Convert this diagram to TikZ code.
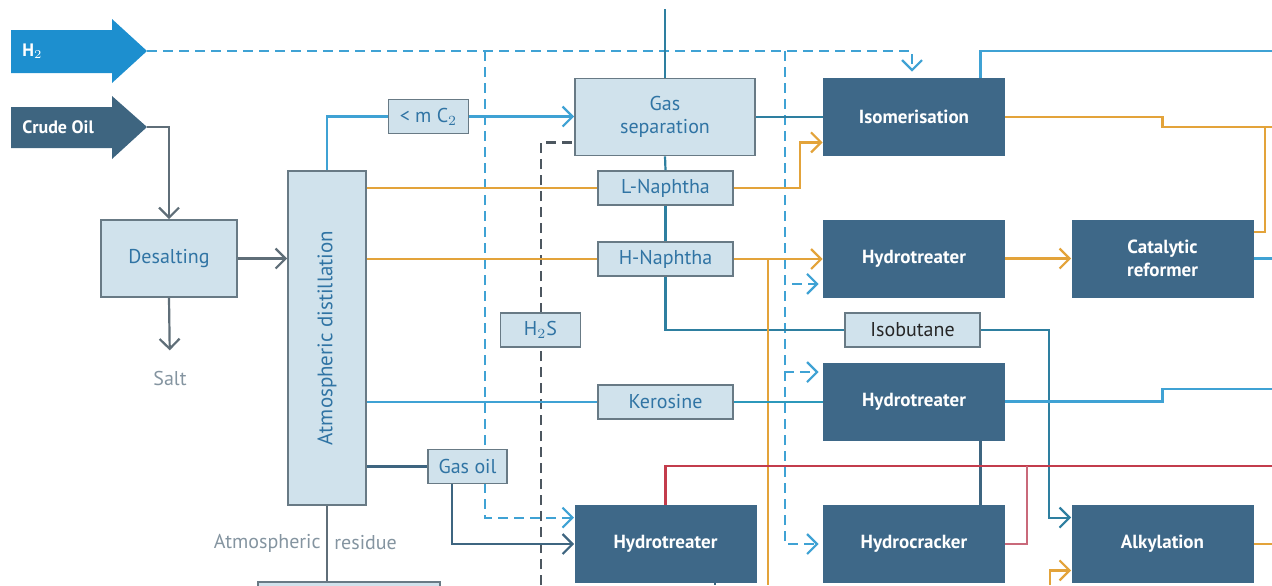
\documentclass[tikz,border=0pt]{standalone}
\usepackage{fontspec}
\setmainfont{PT Sans}
\usetikzlibrary{arrows.meta}

\definecolor{hblue}{HTML}{1D8FCF}
\definecolor{crudeblue}{HTML}{3E6580}
\definecolor{darkfill}{HTML}{3E6888}
\definecolor{boxfill}{HTML}{D0E2EC}
\definecolor{boxline}{HTML}{687A85}
\definecolor{boxtext}{HTML}{3074A4}
\definecolor{greyline}{HTML}{5F6E78}
\definecolor{greytext}{HTML}{8494A0}
\definecolor{lightblue}{HTML}{3FA2D4}
\definecolor{tealline}{HTML}{2E7FA0}
\definecolor{oilorange}{HTML}{E3A33A}
\definecolor{gasred}{HTML}{C33C4C}
\definecolor{pinkred}{HTML}{C9697A}
\definecolor{dashgrey}{HTML}{4D5760}

\tikzset{
  lightbox/.style={draw=boxline,fill=boxfill,line width=0.9pt,text=boxtext,
    align=center,inner sep=0pt,font=\fontsize{10}{11.5}\selectfont},
  darkbox/.style={fill=darkfill,text=white,align=center,inner sep=0pt,
    minimum width=91pt,minimum height=39pt,font=\fontsize{9.5}{11.5}\selectfont\bfseries},
  feedtext/.style={text=white,anchor=west,inner sep=0pt,font=\fontsize{9}{11}\selectfont\bfseries},
  greytxt/.style={text=greytext,inner sep=0pt,font=\fontsize{10}{11.5}\selectfont},
  flow/.style={line width=1.1pt},
  tip/.style={-{Straight Barb[length=5pt,width=10pt]}},
  h2line/.style={flow,draw=lightblue,dash pattern=on 5pt off 3pt},
}

\begin{document}
\begin{tikzpicture}[x=0.5pt,y=-0.5pt]
\useasboundingbox (0,0) rectangle (1272,585);

% feed arrows
\fill[hblue] (11,30) -- (112,30) -- (112,19) -- (147,51) -- (112,83) -- (112,73) -- (11,73) -- cycle;
\fill[crudeblue] (11,107) -- (112,107) -- (112,96) -- (147,127) -- (112,159) -- (112,148) -- (11,148) -- cycle;
\node[feedtext] (h2) at (22,51) {H$_2$};
\node[feedtext] (crude) at (22,127) {Crude Oil};
\coordinate (h2tip) at (147,51);
\coordinate (crudetip) at (147,127);

% units
\node[lightbox,minimum width=68pt,minimum height=38.5pt] (desalt) at (169,258.5) {Desalting};
\node[greytxt] (salt) at (170,378) {Salt};
\node[lightbox,minimum width=39pt,minimum height=167pt] (atm) at (327,338) {};
\node[rotate=90,text=boxtext,inner sep=0pt,font=\fontsize{10.5}{12}\selectfont] (atmlabel) at (327,338) {Atmospheric distillation};
\node[lightbox,minimum width=40pt,minimum height=17pt] (mc2) at (428.5,116.5) {< m C$_2$};
\node[lightbox,minimum width=90pt,minimum height=38.5pt] (gassep) at (665,117) {Gas\\separation};
\node[lightbox,minimum width=67.5pt,minimum height=17pt] (lnaph) at (665.5,188) {L-Naphtha};
\node[lightbox,minimum width=67.5pt,minimum height=17pt] (hnaph) at (665.5,259) {H-Naphtha};
\node[lightbox,minimum width=67.5pt,minimum height=17pt] (kero) at (665.5,402) {Kerosine};
\node[lightbox,minimum width=67.5pt,minimum height=17pt,text=black!85] (isobut) at (912.5,330) {Isobutane};
\node[darkbox] (isom) at (914,117) {Isomerisation};
\node[darkbox] (ht1) at (914,258.5) {Hydrotreater};
\node[darkbox] (reform) at (1162.5,258.5) {Catalytic\\reformer};
\node[darkbox] (ht2) at (914,401.5) {Hydrotreater};
\node[darkbox] (hcrack) at (914,544) {Hydrocracker};
\node[darkbox] (ht3) at (665.5,544) {Hydrotreater};
\node[darkbox] (alky) at (1162.5,544) {Alkylation};
\node[lightbox,minimum width=91pt,minimum height=15pt,anchor=north] (resid) at (349,581) {};
\node[greytxt,anchor=east] (residA) at (321,543) {Atmospheric};
\node[greytxt,anchor=west] (residB) at (334,543) {residue};

% loose ends
\coordinate (gastop) at (665,9);
\coordinate (dashA) at (485,51);
\coordinate (dashB) at (785,51);
\coordinate (h2sbot) at (541,585);
\coordinate (orbot) at (768,585);
\coordinate (oright) at (1272,127);
\coordinate (ojoin) at (1265,127);
\coordinate (isoout) at (1272,51);
\coordinate (refout) at (1272,258.5);
\coordinate (kout) at (1272,389);
\coordinate (redout) at (1272,466);
\coordinate (redjoin) at (1027,466);
\coordinate (aout) at (1272,544);
\coordinate (abot) at (1050,585);
\coordinate (htbot) at (715,585);

% hydrogen
\draw[h2line,tip,shorten >=3pt] (h2tip) -| ([xshift=-1pt]isom.north);
\draw[h2line,tip] (dashA) |- ([yshift=-6.5pt]ht3.north west);
\draw[h2line,tip,shorten >=2pt] (dashB) |- ([yshift=7pt]ht1.south west);
\draw[h2line,tip,shorten >=2pt] (dashB) |- ([yshift=-5pt]ht2.north west);
\draw[h2line,tip,shorten >=2pt] (dashB) |- (hcrack.west);
\draw[flow,draw=dashgrey,dash pattern=on 5pt off 3pt] (h2sbot) |- ([yshift=7pt]gassep.south west);
\node[lightbox,minimum width=40pt,minimum height=17pt] (h2s) at (540.5,330) {H$_2$S};

% crude and distillation
\draw[flow,greyline,tip] (crudetip) -| (desalt.north);
\draw[flow,greyline,tip,shorten >=10pt] (desalt.south) -- (salt.north);
\draw[flow,greyline,tip] (desalt.east) -- (desalt.east -| atm.west);
\draw[flow,greyline] (atm.south) -- (atm.south |- resid.north);
\draw[flow,lightblue] (atm.north) |- (mc2.west);
\draw[flow,lightblue,tip] (mc2.east) -- (mc2.east -| gassep.west);
\draw[flow,tealline] (gastop) -- (gassep.north);
\draw[flow,tealline] (gassep.east) -- (gassep.east -| isom.west);
\draw[flow,tealline] (gassep.south) -- (lnaph.north);
\draw[flow,tealline] (lnaph.south) -- (hnaph.north);
\draw[flow,tealline] (hnaph.south) |- (isobut.west);

% naphtha
\draw[flow,oilorange] (atm.east |- lnaph.west) -- (lnaph.west);
\draw[flow,oilorange,tip] (lnaph.east) -| ([xshift=-11.5pt,yshift=7pt]isom.south west) -- ([yshift=7pt]isom.south west);
\draw[flow,oilorange] (atm.east |- hnaph.west) -- (hnaph.west);
\draw[flow,oilorange,tip] (hnaph.east) -- (hnaph.east -| ht1.west);
\draw[flow,oilorange] (hnaph.east -| orbot) -- (orbot);
\draw[flow,oilorange,tip] (ht1.east) -- (reform.west);
\draw[flow,oilorange] (isom.east) -- ++(157,0) |- (oright);
\draw[flow,oilorange] ([yshift=-6.5pt]reform.north east) -| (ojoin);
\draw[flow,lightblue] (reform.east) -- (refout);
\draw[flow,lightblue] ([xshift=-12.5pt]isom.north east) |- (isoout);

% isobutane and kerosine
\draw[flow,tealline,tip] (isobut.east) -| ([xshift=-11pt,yshift=-6.5pt]alky.north west) -- ([yshift=-6.5pt]alky.north west);
\draw[flow,lightblue] (atm.east |- kero.west) -- (kero.west);
\draw[flow,draw=lightblue!70!teal] (kero.east) -- (kero.east -| ht2.west);
\draw[flow,lightblue] (ht2.east) -- ++(157,0) |- (kout);
\draw[flow,crudeblue] ([xshift=-12.5pt]ht2.south east) -- ([xshift=-12.5pt]hcrack.north east);

% gas oil
\node[lightbox,minimum width=39.5pt,minimum height=17pt] (gasoil) at (467.5,466.5) {Gas oil};
\draw[flow,crudeblue] (atm.east |- gasoil.west) -- (gasoil.west);
\draw[flow,crudeblue,tip] ([xshift=-7.75pt]gasoil.south) |- (ht3.west);
\draw[flow,crudeblue] ([xshift=24.75pt]ht3.south) -- (htbot);

% cracked products
\draw[flow,gasred] (ht3.north) |- (redout);
\draw[flow,pinkred] (hcrack.east) -| (redjoin);
\draw[flow,oilorange] (alky.east) -- (aout);
\draw[flow,oilorange,tip] (abot) |- ([yshift=6.5pt]alky.south west);
\end{tikzpicture}
\end{document}
